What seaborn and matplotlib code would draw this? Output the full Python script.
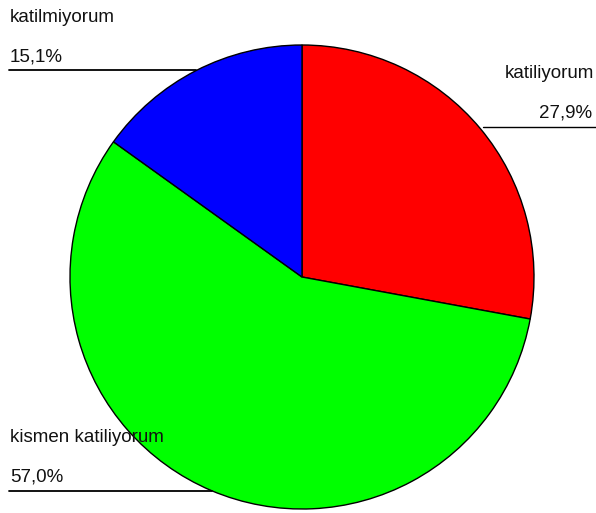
import matplotlib
matplotlib.use("Agg")
import matplotlib.pyplot as plt
import seaborn as sns

# Data
categories = ["katiliyorum", "kismen katiliyorum", "katilmiyorum"]
shares = [27.9, 57.0, 15.1]
pct_labels = ["27,9%", "57,0%", "15,1%"]
colors = ["#ff0000", "#00ff00", "#0000ff"]

sns.set_theme(style="white")
plt.rcParams["font.family"] = ["Liberation Sans", "DejaVu Sans"]

W, H = 596, 513
fig = plt.figure(figsize=(W / 100, H / 100), dpi=100)
ax = fig.add_axes([0, 0, 1, 1])

# pie in pixel coords (y measured from bottom)
cx, cy, r = 302, H - 277, 232
ax.pie(shares, colors=colors, startangle=90, counterclock=False,
       center=(cx, cy), radius=r,
       wedgeprops=dict(edgecolor="black", linewidth=1.0))
ax.set_xlim(0, W)
ax.set_ylim(0, H)
ax.set_aspect("auto")
ax.axis("off")

fs = 13.5
# katilmiyorum (top left)
ax.text(10, H - 22, categories[2], fontsize=fs, ha="left", va="baseline", color="#111111")
ax.text(10, H - 61, pct_labels[2], fontsize=fs, ha="left", va="baseline", color="#111111")
ax.plot([9, 196], [H - 70, H - 70], color="black", lw=1.3)

# katiliyorum (right)
ax.text(594, H - 78, categories[0], fontsize=fs, ha="right", va="baseline", color="#111111")
ax.text(592, H - 117, pct_labels[0], fontsize=fs, ha="right", va="baseline", color="#111111")
ax.plot([483, 596], [H - 127, H - 127], color="black", lw=1.0)

# kismen katiliyorum (bottom left)
ax.text(10, H - 442, categories[1], fontsize=fs, ha="left", va="baseline", color="#111111")
ax.text(10, H - 482, pct_labels[1], fontsize=fs, ha="left", va="baseline", color="#111111")
ax.plot([9, 212], [H - 491, H - 491], color="black", lw=1.3)

fig.savefig("out.png", dpi=100)
